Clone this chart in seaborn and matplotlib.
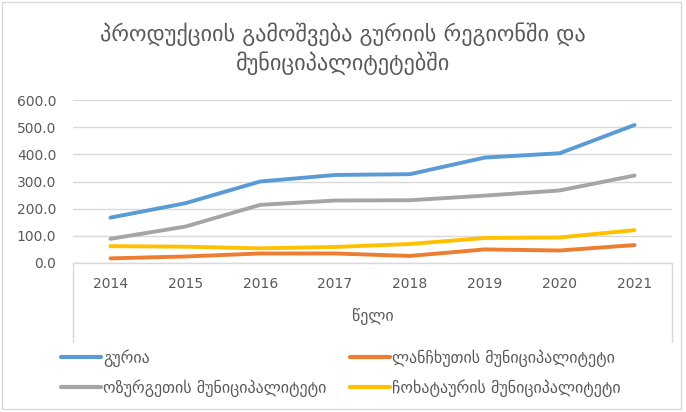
import matplotlib
matplotlib.use("Agg")
import seaborn as sns
import matplotlib.pyplot as plt
import pandas as pd
from matplotlib.lines import Line2D
from matplotlib.patches import Rectangle

years = [2014, 2015, 2016, 2017, 2018, 2019, 2020, 2021]
guria = [167, 220, 300, 324, 327, 388, 404, 508]
lanchkhuti = [17, 24, 35, 35, 26, 50, 46, 66]
ozurgeti = [89, 134, 214, 230, 231, 248, 267, 322]
chokhatauri = [62, 60, 54, 59, 70, 92, 94, 121]

names = ["გურია", "ლანჩხუთის მუნიციპალიტეტი",
         "ოზურგეთის მუნიციპალიტეტი", "ჩოხატაურის მუნიციპალიტეტი"]
colors = ["#5B9BD5", "#ED7D31", "#A5A5A5", "#FFC000"]
title = "პროდუქციის გამოშვება გურიის რეგიონში და\nმუნიციპალიტეტებში"
xlabel = "წელი"

frames = []
for name, vals in zip(names, [guria, lanchkhuti, ozurgeti, chokhatauri]):
    frames.append(pd.DataFrame({"year": years, "value": vals, "series": name}))
df = pd.concat(frames)

sns.set_style("white")
plt.rcParams['font.family'] = ['DejaVu Sans']
txt = "#595959"
grid = "#d9d9d9"

fig = plt.figure(figsize=(6.86, 4.12), dpi=100)
ax = fig.add_axes([73/686, 1-263/412, (672-73)/686, (263-100)/412])

sns.lineplot(data=df, x="year", y="value", hue="series", palette=colors,
             hue_order=names, linewidth=2.8, ax=ax, legend=False)

ax.set_xlim(2013.5, 2021.5)
ax.set_ylim(0, 600)
ax.set_xticks(years)
ax.set_yticks(range(0, 601, 100))
ax.set_yticklabels([f"{v:.1f}" for v in range(0, 601, 100)])
ax.yaxis.grid(True, color=grid, linewidth=1.0)
ax.set_axisbelow(True)
for s in ["left", "right", "top"]:
    ax.spines[s].set_visible(False)
ax.spines["bottom"].set_color(grid)
ax.spines["bottom"].set_linewidth(1.0)
ax.tick_params(axis="both", length=0, labelsize=10, labelcolor=txt)
ax.tick_params(axis="x", pad=10)
ax.tick_params(axis="y", pad=12)
ax.set_ylabel("")
ax.set_xlabel(xlabel, fontsize=11.5, color=txt, labelpad=12)

# side lines of the plot area below the zero line
for xf in [73/686, 672/686]:
    fig.add_artist(Line2D([xf, xf], [1-263/412, 1-342/412], color=grid, linewidth=1.0))

fig.text(0.5, 1-49/412, title, ha="center", va="center", fontsize=16,
         color=txt, linespacing=1.3)

handles = [Line2D([], [], color=c, linewidth=3) for c in colors]
order = [0, 2, 1, 3]
fig.legend([handles[i] for i in order], [names[i] for i in order],
           loc="upper left", bbox_to_anchor=(47/686, 1-335/412), ncol=2,
           frameon=False, fontsize=11.5, labelcolor=txt, handlelength=2.5,
           handletextpad=0.1, columnspacing=1.5, labelspacing=0.75)

fig.add_artist(Rectangle((0.003, 0.008), 0.99, 0.988, transform=fig.transFigure,
                         fill=False, edgecolor=grid, linewidth=1.0))

fig.savefig("out.png", dpi=100)
